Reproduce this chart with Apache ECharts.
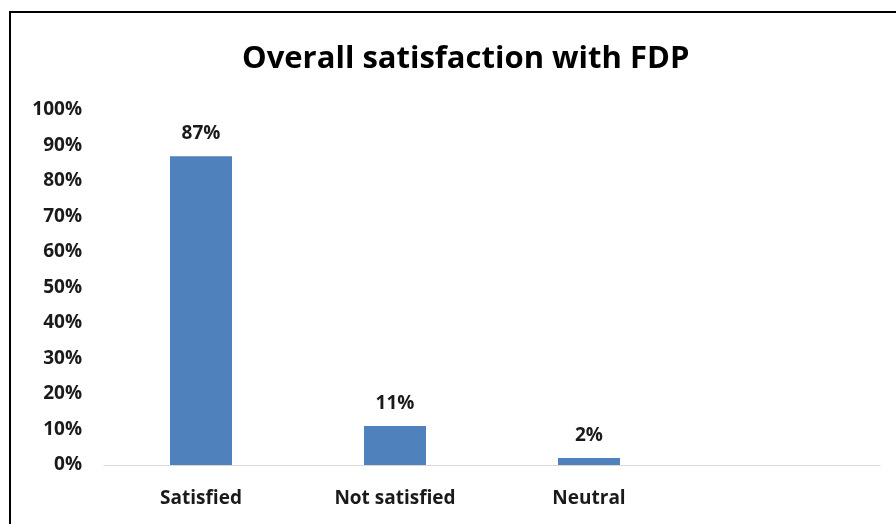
<!DOCTYPE html>
<html>
<head>
<meta charset="utf-8">
<script src="https://cdn.jsdelivr.net/npm/echarts@6/dist/echarts.min.js"></script>
<style>
  html, body { margin: 0; padding: 0; background: #fff; }
  #chart { width: 896px; height: 524px; }
</style>
</head>
<body>
<div id="chart"></div>
<script>
// Survey answers and their shares (percent); the last slot is left empty
const categories = ['Satisfied', 'Not satisfied', 'Neutral', ''];
const shares = [87, 11, 2, null];
const chartTitle = 'Overall satisfaction with FDP';

const FONT = '"Open Sans", Lato, sans-serif';
const TEXT = '#1a1a1a';

const chart = echarts.init(document.getElementById('chart'));
chart.setOption({
  backgroundColor: '#ffffff',
  animation: false,
  title: {
    text: chartTitle,
    left: 237,
    top: 39,
    textStyle: { fontFamily: FONT, fontSize: 31, fontWeight: 'bold', color: '#000' }
  },
  grid: { left: 104, right: 16, top: 110, bottom: 59 },
  xAxis: {
    type: 'category',
    data: categories,
    axisLine: { lineStyle: { color: '#d9d9d9', width: 1 } },
    axisTick: { show: false },
    axisLabel: { fontFamily: FONT, fontSize: 19, fontWeight: 'bold', color: TEXT, margin: 24 }
  },
  yAxis: {
    type: 'value',
    min: 0,
    max: 100,
    interval: 10,
    splitLine: { show: false },
    axisLine: { show: false },
    axisTick: { show: false },
    axisLabel: {
      fontFamily: FONT, fontSize: 19, fontWeight: 'bold', color: TEXT, margin: 22,
      formatter: v => v + '%'
    }
  },
  series: [{
    type: 'bar',
    data: shares,
    barWidth: 62,
    itemStyle: { color: '#4f81bd' },
    label: {
      show: true,
      position: 'top',
      distance: 13,
      fontFamily: FONT, fontSize: 19, fontWeight: 'bold', color: TEXT,
      formatter: p => p.value + '%'
    }
  }],
  graphic: [
    { type: 'line', shape: { x1: 10, y1: 12, x2: 10, y2: 524 }, style: { stroke: '#000', lineWidth: 2 } },
    { type: 'line', shape: { x1: 9, y1: 12, x2: 896, y2: 12 }, style: { stroke: '#000', lineWidth: 2 } }
  ]
});
</script>
</body>
</html>
